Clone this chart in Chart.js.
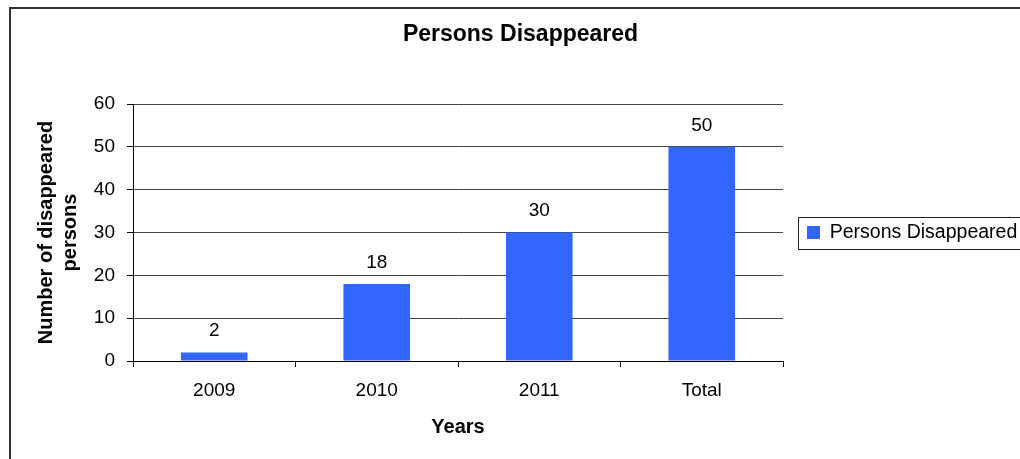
<!DOCTYPE html>
<html>
<head>
<meta charset="utf-8">
<title>Persons Disappeared</title>
<script src="https://cdn.jsdelivr.net/npm/chart.js@4.4.0/dist/chart.umd.min.js"></script>
<style>
    html, body { margin: 0; padding: 0; background: #fff; }
    #chartBox { width: 1020px; height: 459px; }
</style>
</head>
<body>
<div id="chartBox"><canvas id="disappearedChart" width="1020" height="459"></canvas></div>
<script>
// Chart data
const yearLabels = ['2009', '2010', '2011', 'Total'];
const disappearedCounts = [2, 18, 30, 50];
const seriesName = 'Persons Disappeared';
const yTicks = [0, 10, 20, 30, 40, 50, 60];

const fontFamily = '"Liberation Sans", Arial, Helvetica, sans-serif';
const barColor = '#3366FF';

// Frame around the whole chart
const framePlugin = {
    id: 'frame',
    afterDraw(chart) {
        const ctx = chart.ctx;
        ctx.save();
        ctx.strokeStyle = '#333';
        ctx.lineWidth = 2;
        ctx.strokeRect(10, 8, chart.width + 20, chart.height + 20);
        ctx.restore();
    }
};

// Box drawn around the legend entry
const legendBoxPlugin = {
    id: 'legendBox',
    afterDraw(chart) {
        const hb = chart.legend.legendHitBoxes[0];
        if (!hb) return;
        const ctx = chart.ctx;
        const cy = hb.top + hb.height / 2;
        ctx.save();
        ctx.strokeStyle = '#222';
        ctx.lineWidth = 1;
        ctx.strokeRect(hb.left - 8.5, Math.round(cy - 16) + 0.5, chart.width, 32);
        ctx.restore();
    }
};

// Value above each bar
const valueLabelPlugin = {
    id: 'valueLabels',
    afterDatasetsDraw(chart) {
        const ctx = chart.ctx;
        const meta = chart.getDatasetMeta(0);
        ctx.save();
        ctx.font = '19px ' + fontFamily;
        ctx.fillStyle = '#000';
        ctx.textAlign = 'center';
        ctx.textBaseline = 'middle';
        meta.data.forEach((bar, i) => {
            ctx.fillText(String(disappearedCounts[i]), bar.x, bar.y - 21.5);
        });
        ctx.restore();
    }
};

const ctx = document.getElementById('disappearedChart').getContext('2d');
const disappearedChart = new Chart(ctx, {
    type: 'bar',
    data: {
        labels: yearLabels,
        datasets: [{
            label: seriesName,
            data: disappearedCounts,
            backgroundColor: barColor,
            borderWidth: 0,
            barPercentage: 0.41,
            categoryPercentage: 1
        }]
    },
    options: {
        responsive: false,
        animation: false,
        devicePixelRatio: 1,
        layout: {
            padding: { left: 21, right: 0, top: 10, bottom: 10 }
        },
        scales: {
            x: {
                grid: {
                    offset: true,
                    drawOnChartArea: false,
                    drawTicks: true,
                    tickLength: 6,
                    color: '#000'
                },
                border: { color: '#000', width: 1 },
                ticks: {
                    color: '#000',
                    padding: 12,
                    font: { family: fontFamily, size: 19 }
                },
                title: {
                    display: true,
                    text: 'Years',
                    color: '#000',
                    padding: { top: 0, bottom: 10 },
                    font: { family: fontFamily, size: 20, weight: 'bold' }
                },
                afterFit(axis) {
                    axis.height = 88;
                }
            },
            y: {
                min: 0,
                max: 60,
                afterBuildTicks(axis) {
                    axis.ticks = yTicks.map(v => ({ value: v }));
                },
                grid: {
                    color: '#444',
                    tickColor: '#000',
                    tickLength: 6
                },
                border: { color: '#000', width: 1 },
                ticks: {
                    color: '#000',
                    padding: 12,
                    font: { family: fontFamily, size: 19 }
                },
                title: {
                    display: true,
                    text: ['Number of disappeared', 'persons'],
                    color: '#000',
                    padding: { top: 13, bottom: 0 },
                    font: { family: fontFamily, size: 20, weight: 'bold' }
                },
                afterFit(axis) {
                    axis.width = 112;
                }
            }
        },
        plugins: {
            title: {
                display: true,
                text: seriesName,
                color: '#000',
                padding: { top: 11.2, bottom: 55.2 },
                font: { family: fontFamily, size: 23, weight: 'bold' }
            },
            legend: {
                position: 'right',
                fullSize: false,
                maxWidth: 237,
                labels: {
                    color: '#000',
                    boxWidth: 13,
                    boxHeight: 13,
                    padding: 24,
                    font: { family: fontFamily, size: 19.5 }
                }
            },
            tooltip: { enabled: false }
        }
    },
    plugins: [valueLabelPlugin, legendBoxPlugin, framePlugin]
});
</script>
</body>
</html>
